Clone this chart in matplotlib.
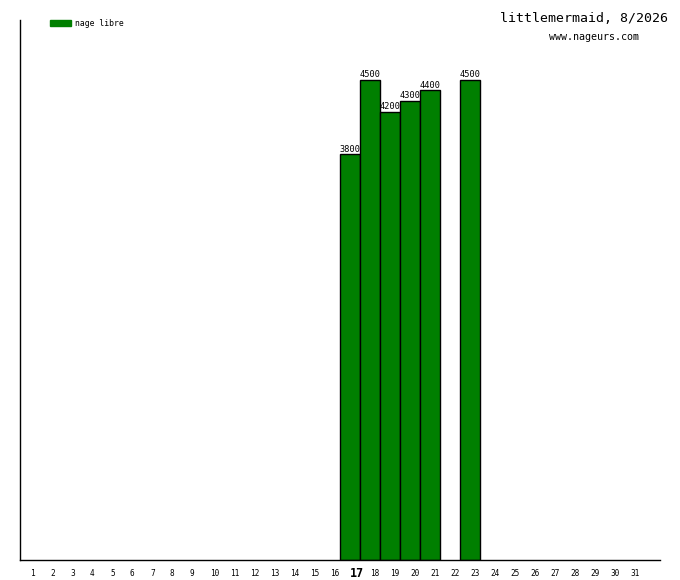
import matplotlib
matplotlib.use("Agg")
import matplotlib.pyplot as plt

days = list(range(1, 32))
bar_days = [17, 18, 19, 20, 21, 23]
distances = [3800, 4500, 4200, 4300, 4400, 4500]
highlight_day = 17
series_name = "nage libre"
title = "littlemermaid, 8/2026"
site = "www.nageurs.com"

green = "#007F00"
mono = "DejaVu Sans Mono"

fig = plt.figure(figsize=(6.8, 5.8), dpi=100)
ax = fig.add_axes([20 / 680, 20 / 580, 640 / 680, 540 / 580])

ax.bar(bar_days, distances, width=1.0, color=green, edgecolor="black", linewidth=1)
for d, v in zip(bar_days, distances):
    ax.text(d, v + 8, str(v), ha="center", va="bottom", fontsize=6.2, family=mono)

ax.set_xlim(0.5, 32.5)
ax.set_ylim(0, 5060)
ax.set_yticks([])
ax.set_xticks(days)
ax.set_xticklabels([str(d) for d in days], family=mono, fontsize=5.6)
ax.tick_params(axis="x", length=0, pad=10)
for lab, d in zip(ax.get_xticklabels(), days):
    lab.set_ha("left")
    lab.set_va("center")
    if d == highlight_day:
        lab.set_fontsize(8.5)
        lab.set_fontweight("bold")
ax.spines["top"].set_visible(False)
ax.spines["right"].set_visible(False)
ax.spines["left"].set_linewidth(1)
ax.spines["bottom"].set_linewidth(1)

# legend drawn by hand, like the original
fig.patches.append(plt.Rectangle((50 / 680, 1 - 26 / 580), 21 / 680, 6 / 580,
                                 transform=fig.transFigure, color=green))
fig.text(75 / 680, 1 - 23 / 580, series_name, fontsize=5.9, family=mono, va="center")

fig.text(668 / 680, 1 - 18 / 580, title, fontsize=9.5, family=mono, ha="right", va="center")
fig.text(594 / 680, 1 - 37 / 580, site, fontsize=7.2, family=mono, ha="center", va="center")

fig.savefig("out.png", dpi=100)
